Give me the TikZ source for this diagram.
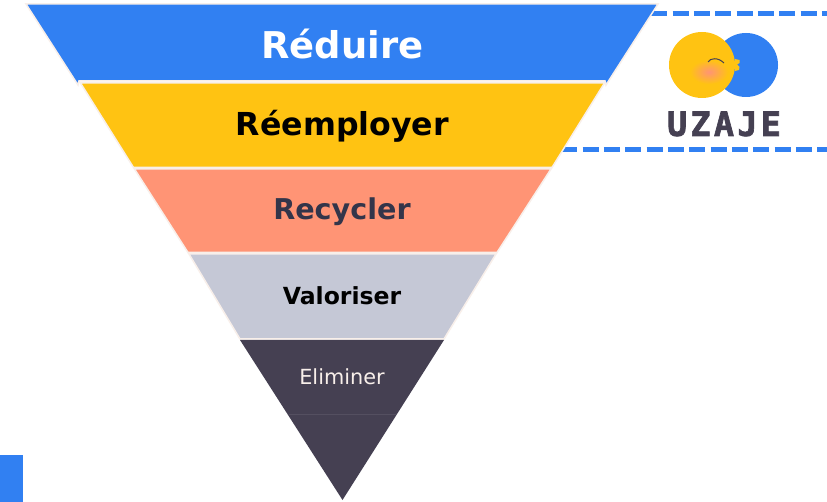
\documentclass[tikz,border=0pt]{standalone}
\usepackage{fontspec}
\setmainfont{DejaVu Sans}
\setmonofont{DejaVu Sans Mono}
\newfontfamily\logofont[FakeBold=2,LetterSpace=10]{DejaVu Sans Mono Bold}
\definecolor{bluelvl}{HTML}{3180F2}
\definecolor{yellowlvl}{HTML}{FFC312}
\definecolor{salmonlvl}{HTML}{FF9475}
\definecolor{greylvl}{HTML}{C5C8D6}
\definecolor{darklvl}{HTML}{454052}
\definecolor{edgelvl}{HTML}{F8EFEA}
\definecolor{recycltext}{HTML}{33354A}
\begin{document}
\begin{tikzpicture}
			[x=0.02cm,y=-0.02cm,
			band/.style={draw=edgelvl,line width=0.03cm},
			bandtext/.style={inner sep=0pt},
			dashline/.style={draw=bluelvl,line width=0.1cm,dash pattern=on 0.32cm off 0.1067cm},
			disc/.style={circle,minimum size=#1*0.02cm,inner sep=0pt}]
			\useasboundingbox(0,0)rectangle(827,502);
			\fill[white](0,0)rectangle(827,502);
			\fill[bluelvl](0,455)rectangle(23,502);
			% dashed frame of the logo
			\coordinate(top1)at(651.3,14);
			\coordinate(top2)at(827,14);
			\coordinate(bot1)at(561.3,150);
			\coordinate(bot2)at(827,150);
			\draw[dashline](top1)--(top2);
			\draw[dashline](bot1)--(bot2);
			% pyramid
			\draw[band,fill=bluelvl](26,4)--(658,4)--(606,85)--(605,81)--(79,81)--(78,85)--cycle;
			\draw[band,fill=yellowlvl](80.5,83)--(604.5,83)--(552,167.5)--(133.5,167.5)--cycle;
			\draw[band,fill=salmonlvl](134.5,169)--(551,169)--(497,252.5)--(188,252.5)--cycle;
			\draw[band,fill=greylvl](189,254)--(496,254)--(444,339)--(240,339)--cycle;
			\fill[darklvl](240,340)--(444,340)--(342.5,500)--cycle;
			\draw[darklvl!92!white,line width=0.01cm](289,414)--(396,414);
			\node[bandtext,name=reduire,text=white,font=\bfseries\fontsize{21}{24}\selectfont]at(342.5,44){Réduire};
			\node[bandtext,name=reemployer,text=black,font=\bfseries\fontsize{18}{20}\selectfont]at(342.5,126){Réemployer};
			\node[bandtext,name=recycler,text=recycltext,font=\bfseries\fontsize{16.3}{19}\selectfont]at(342,212){Recycler};
			\node[bandtext,name=valoriser,text=black,font=\bfseries\fontsize{13.4}{15}\selectfont]at(342,296){Valoriser};
			\node[bandtext,name=eliminer,text=edgelvl,font=\fontsize{11.85}{14}\selectfont]at(342,377){Eliminer};
			% logo
			\node[disc=64,fill=bluelvl,name=logoblue]at(746,65){};
			\node[disc=66,fill=yellowlvl,name=logoyellow]at(702,65){};
			\fill[yellowlvl](735,59)--(739.5,60)--(739.5,63)--(737,64.5)--(739.5,67)--(739,70)--(735,71)--cycle;
			\shade[inner color=salmonlvl,outer color=yellowlvl](709,72)ellipse(19 and 12);
			\draw[darklvl,line width=0.02cm](708,62)..controls(710,58)and(718,57)..(724,63);
			\node[bandtext,name=uzaje,text=darklvl,font=\logofont\fontsize{19}{22}\selectfont]at(724,124){UZAJE};
		\end{tikzpicture}
\end{document}
